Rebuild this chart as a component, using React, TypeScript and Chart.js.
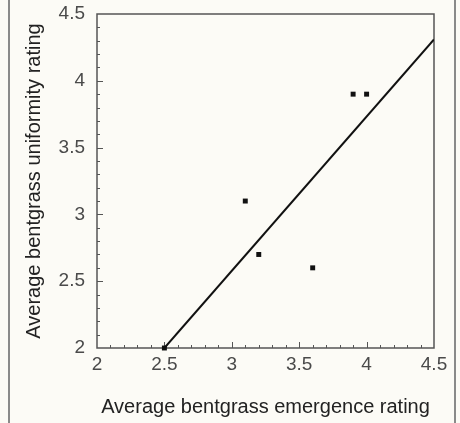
import React, { useEffect, useRef } from "react";
import { Chart, registerables } from "chart.js";

Chart.register(...registerables);

const emergence = [2.5, 3.1, 3.2, 3.6, 3.9, 4.0];
const uniformity = [2.0, 3.1, 2.7, 2.6, 3.9, 3.9];
const fitX = [2.5, 4.5];
const fitY = [2.0, 4.31];
const axisMin = 2;
const axisMax = 4.5;
const majorStep = 0.5;
const minorStep = 0.1;
const xTitle = "Average bentgrass emergence rating";
const yTitle = "Average bentgrass uniformity rating";

const TEXT = "#4a4a4a";
const AXIS = "#555555";
const FONT = "'Liberation Sans', Arial, sans-serif";

const framePlugin = {
  id: "frame",
  beforeDraw(chart: any) {
    const { ctx, width, height } = chart;
    ctx.save();
    ctx.fillStyle = "#fcfbf6";
    ctx.fillRect(0, 0, width, height);
    ctx.strokeStyle = "#8a8a8a";
    ctx.lineWidth = 2;
    ctx.beginPath();
    ctx.moveTo(9, 0);
    ctx.lineTo(9, height);
    ctx.moveTo(455, 0);
    ctx.lineTo(455, height);
    ctx.stroke();
    ctx.restore();
  },
  beforeDatasetsDraw(chart: any) {
    const { ctx, chartArea } = chart;
    const xs = chart.scales.x;
    const ys = chart.scales.y;
    ctx.save();
    ctx.strokeStyle = AXIS;
    ctx.lineWidth = 1.5;
    ctx.strokeRect(chartArea.left, chartArea.top, chartArea.right - chartArea.left, chartArea.bottom - chartArea.top);
    ctx.lineWidth = 1;
    const n = Math.round((axisMax - axisMin) / minorStep);
    ctx.beginPath();
    for (let i = 1; i < n; i++) {
      const v = axisMin + i * minorStep;
      const isMajor = Math.abs(v / majorStep - Math.round(v / majorStep)) < 1e-6;
      const len = isMajor ? 6 : 3;
      const px = Math.round(xs.getPixelForValue(v)) + 0.5;
      ctx.moveTo(px, chartArea.bottom);
      ctx.lineTo(px, chartArea.bottom - len);
      const py = Math.round(ys.getPixelForValue(v)) + 0.5;
      ctx.moveTo(chartArea.left, py);
      ctx.lineTo(chartArea.left + len, py);
    }
    ctx.stroke();
    ctx.restore();
  },
};

const buildTicks = (s: any) => {
  const t = [];
  for (let v = axisMin; v <= axisMax + 1e-9; v += majorStep) t.push({ value: +v.toFixed(2) });
  s.ticks = t;
};
const fmt = (v: any) => String(+Number(v).toFixed(2));

export default function App() {
  const ref = useRef<HTMLCanvasElement | null>(null);
  useEffect(() => {
    if (!ref.current) return;
    const chart = new Chart(ref.current, {
      type: "scatter",
      data: {
        datasets: [
          {
            type: "line",
            data: fitX.map((x, i) => ({ x, y: fitY[i] })),
            borderColor: "#111",
            borderWidth: 2,
            pointRadius: 0,
            fill: false,
          } as any,
          {
            data: emergence.map((x, i) => ({ x, y: uniformity[i] })),
            pointStyle: "rect",
            pointRadius: 3.5,
            backgroundColor: "#111",
            borderColor: "#111",
            borderWidth: 0,
            clip: false,
          } as any,
        ],
      },
      options: {
        animation: false,
        responsive: false,
        maintainAspectRatio: false,
        layout: { padding: { left: 12, top: 14, right: 26, bottom: 4 } },
        plugins: { legend: { display: false }, tooltip: { enabled: false } },
        scales: {
          x: {
            type: "linear",
            min: axisMin,
            max: axisMax,
            afterBuildTicks: buildTicks,
            afterFit: (s: any) => {
              s.height = 71;
              s.paddingLeft = 0;
              s.paddingRight = 0;
            },
            grid: { display: false, drawTicks: false },
            border: { display: false },
            ticks: { color: TEXT, font: { family: FONT, size: 19 }, padding: 5, maxRotation: 0, callback: fmt },
            title: { display: true, text: xTitle, color: "#222", font: { family: FONT, size: 20 }, padding: { top: 8, bottom: 0 } },
          },
          y: {
            type: "linear",
            min: axisMin,
            max: axisMax,
            afterBuildTicks: buildTicks,
            afterFit: (s: any) => {
              s.width = 85;
              s.paddingTop = 0;
              s.paddingBottom = 0;
            },
            grid: { display: false, drawTicks: false },
            border: { display: false },
            ticks: { color: TEXT, font: { family: FONT, size: 19 }, padding: 12, callback: fmt },
            title: { display: true, text: yTitle, color: "#222", font: { family: FONT, size: 20 }, padding: { top: 10, bottom: 0 } },
          },
        },
      },
      plugins: [framePlugin],
    });
    return () => chart.destroy();
  }, []);
  return (
    <div style={{ position: "absolute", left: 0, top: 0, width: 460, height: 423 }}>
      <canvas ref={ref} width={460} height={423} />
    </div>
  );
}
